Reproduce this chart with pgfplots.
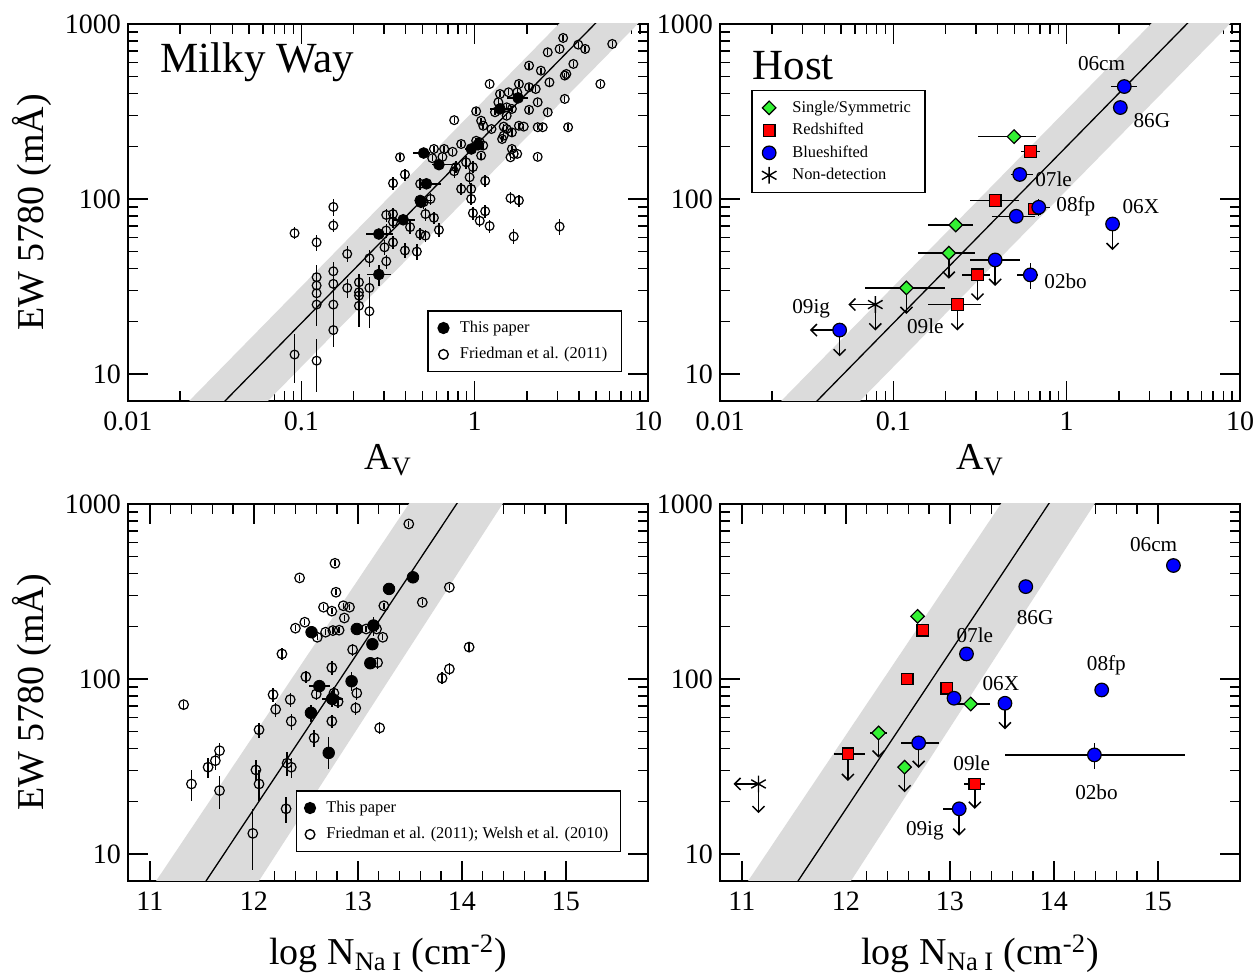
\documentclass[border=0pt]{standalone}
\usepackage{fontspec}
\setmainfont{Liberation Serif}
\usepackage{pgfplots}
\pgfplotsset{compat=1.18}
\usetikzlibrary{arrows.meta}
\definecolor{bandgray}{gray}{0.86}
\definecolor{mgreen}{rgb}{0.2,0.95,0.2}
\definecolor{mred}{rgb}{1,0,0}
\definecolor{mblue}{rgb}{0,0,1}
\newcommand{\tickfont}{\fontsize{14}{15}\selectfont}
\newcommand{\labfont}{\fontsize{19}{21}\selectfont}
\newcommand{\legfont}{\fontsize{8.2}{9.5}\selectfont}
\newcommand{\snfont}{\fontsize{10.6}{12}\selectfont}
\newcommand{\ttlfont}{\fontsize{21.5}{24}\selectfont}
\pgfplotsset{every axis/.append style={
    scale only axis, width=260pt, height=188.5pt,
    axis line style={line width=1pt},
    major tick length=10pt, minor tick length=5pt,
    tick align=inside,
    tick style={black, line width=0.7pt},
    tick label style={font=\tickfont},
    xticklabel style={yshift=-2pt},
    label style={font=\labfont},
    legend cell align=left},
}
\pgfplotsset{
  errb/.style={error bars/x dir=both, error bars/x explicit, error bars/y dir=both, error bars/y explicit,
    error bars/error mark=none, error bars/error bar style={line width=0.75pt, black}},
  errby/.style={error bars/y dir=both, error bars/y explicit,
    error bars/error mark=none, error bars/error bar style={line width=0.7pt, black}},
  uplim/.style={forget plot, black, line width=0.75pt, mark=none, -{Straight Barb[length=3pt,width=6pt]}},
  bandfill/.style={forget plot, fill=bandgray, draw=none},
  fitline/.style={forget plot, black, line width=0.65pt, mark=none},
  gmark/.style={only marks, mark=square*, mark size=2.4pt, mark options={rotate=45, fill=mgreen, draw=black, line width=0.6pt}},
  rmark/.style={only marks, mark=square*, mark size=2.9pt, mark options={fill=mred, draw=black, line width=0.6pt}},
  bmark/.style={only marks, mark=*, mark size=3.4pt, mark options={fill=mblue, draw=black, line width=0.6pt}},
  smark/.style={only marks, mark=asterisk, mark size=4.2pt, mark options={black, line width=0.7pt}},
}
\newcommand{\darr}[3]{\addplot[uplim] coordinates {(#1,#2) (#1,#3)};}
\newcommand{\larr}[3]{\addplot[uplim] coordinates {(#1,#3) (#2,#3)};}
\begin{document}
\begin{tikzpicture}
\useasboundingbox (0,0) rectangle (629pt,487.5pt);
%%%%%%%%%%%%%%%%%%%%%%%%%%%%%%%%% TOP LEFT
\begin{axis}[at={(64pt,287pt)}, anchor=south west,
  xmode=log, ymode=log, xmin=0.01, xmax=10, ymin=7, ymax=1000,
  xtick={0.01,0.1,1,10}, xticklabels={0.01,0.1,1,10},
  ytick={10,100,1000}, yticklabels={10,100,1000},
  xlabel={A\textsubscript{V}}, ylabel={EW 5780 (mÅ)},
  legend style={at={(0.95,0.241)}, anchor=north east, draw=black, line width=0.7pt,
    font=\legfont, inner xsep=5pt, inner ysep=3pt, row sep=2pt, column sep=3.5pt}]
\addlegendimage{only marks, mark=*, mark size=2.7pt, black}
\addlegendentry{This paper}
\addlegendimage{only marks, mark=o, mark size=2.4pt, black}
\addlegendentry{Friedman et al. (2011)}
\addplot[bandfill] coordinates {(0.005,1.53) (20,6668) (20,2312) (0.005,0.532)};
\addplot[fitline] coordinates {(0.005,0.946) (20,4111)};
\addplot[forget plot, only marks, mark=o, mark size=2.2pt, black, mark options={line width=0.6pt}, errby]
  table[y error=ey]{
x y ey
3.24 832 33
3.96 762 30
4.34 720 29
6.22 769 31
3.09 720 29
2.64 689 28
3.71 591 24
2.06 578 23
2.41 541 22
3.38 518 21
3.31 507 20
2.70 464 19
5.31 454 18
1.22 454 18
1.80 454 18
2.06 435 17
2.25 425 17
1.57 407 16
1.76 407 16
1.40 398 16
3.31 373 15
2.31 357 14
1.37 357 14
1.53 334 13
1.64 327 13
2.06 323 13
2.64 313 13
1.02 317 13
1.31 313 13
1.53 299 12
0.762 282 11
1.09 280 11
1.12 262 10
1.25 251 10
1.47 259 10
1.53 251 10
1.80 262 10
1.92 259 10
2.31 257 10
2.47 257 10
3.46 257 10
1.64 240 10
1.47 230 9
1.44 220 9
1.02 215 9
1.07 211 8
1.12 202 8
0.836 206 8
0.582 193 8
0.667 193 8
0.746 186 7
1.64 193 8
1.68 181 7
1.76 181 7
1.61 173 7
2.31 174 7
0.371 173 7
0.569 171 7
0.652 174 7
1.09 177 7
0.893 162 13
0.78 152 12
0.762 144 12
0.977 152 12
0.935 133 11
0.396 138 11
0.338 123 10
0.485 122 10
1.15 127 10
0.836 114 9
0.955 114 9
0.955 100 8
0.556 100 8
0.508 96 8
1.61 101 8
1.80 98 8
0.153 90 10
0.309 81 7
0.338 82 7
0.52 82 7
0.977 83 7
1.15 85 7
0.582 78 6
0.338 74 6
0.424 69 6
0.622 66.5 6
1.07 75 6
1.22 70 6
1.68 61 6
3.09 69.5 7
0.153 70.5 6
0.0914 63.7 5
0.1225 56.5 6
0.309 66 6
0.485 63 5
0.52 61.7 5
0.338 56.5 5
0.302 52.9 5
0.396 50.7 5
0.464 50 5
0.184 48.5 5
0.247 45.8 5
0.309 44 4
0.1225 35.7 6
0.153 38.6 5
0.153 32.7 5
0.1225 32 6
0.1225 28.9 6
0.1225 24.9 6
0.184 31 4
0.215 33.4 4
0.215 29.3 5
0.215 28 5
0.247 31 5
0.215 24.5 6
0.247 22.8 4.5
0.153 24.9 5
0.153 17.8 3.5
0.0914 12.9 4
0.1225 11.9 4
};
\addplot[forget plot, only marks, mark=*, mark size=2.7pt, black, errb]
  table[x error minus=xm, x error plus=xp, y error minus=ym, y error plus=yp]{
x y xm xp ym yp
0.508 183 0.065 0.048 0 0
0.622 157 0.053 0.176 0 0
0.956 193 0.08 0.08 0 0
1.046 204 0.05 0.05 0 0
1.40 327 0.18 0.21 0 0
1.78 378 0.25 0.26 0 0
0.527 122 0.042 0.11 0 0
0.485 98 0.03 0.084 0 0
0.49 95.7 0.03 0.05 0 0
0.387 76 0.049 0.067 0 0
0.28 63 0.045 0.058 0 0
0.28 37 0.04 0.05 5 5
};
\node[anchor=west, inner sep=0pt, font=\ttlfont] at (rel axis cs:0.0615,0.899) {Milky Way};
\end{axis}
%%%%%%%%%%%%%%%%%%%%%%%%%%%%%%%%% TOP RIGHT
\begin{axis}[at={(360pt,287pt)}, anchor=south west,
  xmode=log, ymode=log, xmin=0.01, xmax=10, ymin=7, ymax=1000,
  xtick={0.01,0.1,1,10}, xticklabels={0.01,0.1,1,10},
  ytick={10,100,1000}, yticklabels={10,100,1000},
  xlabel={A\textsubscript{V}},
  legend style={at={(0.06,0.825)}, anchor=north west, draw=black, line width=0.7pt,
    font=\legfont, inner xsep=5pt, inner ysep=3pt, row sep=0pt, column sep=6pt}]
\addlegendimage{gmark}
\addlegendentry{Single/Symmetric}
\addlegendimage{rmark}
\addlegendentry{Redshifted}
\addlegendimage{bmark}
\addlegendentry{Blueshifted}
\addlegendimage{smark}
\addlegendentry{Non-detection}
\addplot[bandfill] coordinates {(0.005,1.53) (20,6668) (20,2312) (0.005,0.532)};
\addplot[fitline] coordinates {(0.005,0.946) (20,4111)};
\darr{0.209}{49}{35}
\darr{0.119}{31}{22}
\darr{0.306}{36.8}{26.2}
\darr{0.234}{24.9}{17.7}
\darr{1.84}{71.9}{51}
\darr{0.387}{44.8}{31.8}
\darr{0.049}{17.8}{12.6}
\larr{0.049}{0.033}{17.8}
\darr{0.0787}{24.9}{17.7}
\larr{0.0787}{0.055}{24.9}
\addplot[forget plot, gmark, black, errb]
  table[x error minus=xm, x error plus=xp, y error minus=ym, y error plus=yp]{
x y xm xp ym yp
0.497 227 0.188 0.17 0 0
0.229 71 0.07 0.059 0 0
0.209 49 0.071 0.087 0 0
0.119 31 0.05 0.08 0 0
};
\addplot[forget plot, rmark, black, errb]
  table[x error minus=xm, x error plus=xp, y error minus=ym, y error plus=yp]{
x y xm xp ym yp
0.617 187 0.072 0.086 0 0
0.387 98 0.109 0.143 5 5
0.652 87.7 0.05 0.07 0 0
0.306 36.8 0.058 0.054 0 0
0.234 24.9 0.076 0.088 0 0
};
\addplot[forget plot, bmark, black, errb]
  table[x error minus=xm, x error plus=xp, y error minus=ym, y error plus=yp]{
x y xm xp ym yp
2.15 439 0.34 0.40 0 0
2.04 333 0 0 0 0
0.536 138 0.058 0.107 0 0
0.69 89.6 0.04 0.11 10 10
0.512 79.6 0.142 0.148 0 0
1.84 71.9 0 0 0 0
0.387 44.8 0.109 0.153 0 0
0.617 36.8 0.097 0.063 6.3 6.5
0.049 17.8 0 0 0 0
};
\addplot[forget plot, smark] coordinates {(0.0787,24.9)};
\node[anchor=west, inner sep=0pt, font=\ttlfont] at (rel axis cs:0.0617,0.889) {Host};
\node[font=\snfont] at (axis cs:1.59,591) {06cm};
\node[font=\snfont] at (axis cs:3.10,279) {86G};
\node[font=\snfont] at (axis cs:0.841,130) {07le};
\node[font=\snfont] at (axis cs:1.13,91) {08fp};
\node[font=\snfont] at (axis cs:2.68,91) {06X};
\node[font=\snfont] at (axis cs:0.986,34) {02bo};
\node[font=\snfont] at (axis cs:0.153,18.8) {09le};
\node[font=\snfont] at (axis cs:0.0336,23.5) {09ig};
\end{axis}
%%%%%%%%%%%%%%%%%%%%%%%%%%%%%%%%% BOTTOM LEFT
\begin{axis}[at={(64pt,47pt)}, anchor=south west,
  ymode=log, xmin=10.79, xmax=15.79, ymin=7, ymax=1000,
  xtick={11,12,13,14,15}, minor x tick num=4,
  ytick={10,100,1000}, yticklabels={10,100,1000},
  /pgf/number format/assume math mode=true,
  xlabel={log N\textsubscript{Na I} (cm\textsuperscript{-2})}, ylabel={EW 5780 (mÅ)},
  xlabel style={yshift=-5pt},
  legend style={at={(0.948,0.241)}, anchor=north east, draw=black, line width=0.7pt,
    font=\legfont, inner xsep=4pt, inner ysep=3pt, row sep=2pt, column sep=3.5pt}]
\addlegendimage{only marks, mark=*, mark size=2.7pt, black}
\addlegendentry{This paper}
\addlegendimage{only marks, mark=o, mark size=2.4pt, black}
\addlegendentry{Friedman et al. (2011); Welsh et al. (2010)}
\addplot[bandfill] coordinates {(10.895,5) (13.655,1400) (14.55,1400) (11.89,5)};
\addplot[fitline] coordinates {(11.377,5) (14.113,1400)};
\addplot[forget plot, only marks, mark=o, mark size=2.4pt, black, mark options={line width=0.6pt}, errby]
  table[y error=ey]{
x y ey
13.49 769 31
12.78 458 18
12.44 378 15
13.88 334 13
12.79 313 13
13.62 274 11
13.25 262 10
12.86 262 10
12.92 257 10
12.67 257 10
12.75 244 10
12.87 223 9
12.49 211 8
12.40 195 8
12.69 185 7
12.76 189 8
12.82 190 8
12.61 173 7
13.08 193 8
13.18 193 8
13.24 173 7
12.95 147 12
12.27 139 11
14.07 152 8
13.19 124 10
12.75 116 10
12.50 103 8
13.88 114 9
13.81 101 8
12.185 81.3 7
12.35 76.2 7
12.21 67 6
12.60 82 6
12.77 83 7
12.81 74.1 6
12.99 83 7
12.98 68.2 6
12.36 57.3 6
12.75 57.3 5
11.325 71.3 4
12.05 51.2 5
12.58 46 5
13.21 52.5 4
11.67 38.9 4
11.63 34.1 4
11.56 31.3 4
11.40 25.1 5
11.67 23 5
12.02 30.2 4
12.05 25.1 5
12.32 33 5
12.36 31.3 4
12.31 18.1 3
11.99 13.1 5
};
\addplot[forget plot, only marks, mark=*, mark size=2.9pt, black, errb]
  table[x error minus=xm, x error plus=xp, y error minus=ym, y error plus=yp]{
x y xm xp ym yp
13.53 381 0 0 0 0
13.30 327 0 0 0 0
12.99 193 0 0 0 0
13.15 202 0 0 25 25
12.555 185 0.05 0.05 0 0
13.14 158 0 0 10 10
13.12 123 0.03 0.03 8 8
12.94 97 0 0 12 12
12.63 91 0.1 0.1 0 0
12.753 76.9 0.1 0.1 8 8
12.549 64 0 0 7 7
12.72 37.8 0 0 7.4 8.6
};
\end{axis}
%%%%%%%%%%%%%%%%%%%%%%%%%%%%%%%%% BOTTOM RIGHT
\begin{axis}[at={(360pt,47pt)}, anchor=south west,
  ymode=log, xmin=10.79, xmax=15.79, ymin=7, ymax=1000,
  xtick={11,12,13,14,15}, minor x tick num=4,
  ytick={10,100,1000}, yticklabels={10,100,1000},
  /pgf/number format/assume math mode=true,
  xlabel={log N\textsubscript{Na I} (cm\textsuperscript{-2})},
  xlabel style={yshift=-5pt}]
\addplot[bandfill] coordinates {(10.895,5) (13.655,1400) (14.55,1400) (11.89,5)};
\addplot[fitline] coordinates {(11.377,5) (14.113,1400)};
\darr{12.315}{49.1}{35.5}
\darr{12.565}{31.3}{22.5}
\darr{12.02}{37.3}{26.1}
\darr{13.24}{25.1}{18.1}
\darr{13.53}{72.6}{51.5}
\darr{12.70}{43.1}{31}
\darr{13.09}{18.1}{12.7}
\darr{11.16}{25.1}{17.1}
\larr{11.16}{10.92}{25.1}
\addplot[forget plot, gmark, black, errb]
  table[x error minus=xm, x error plus=xp, y error minus=ym, y error plus=yp]{
x y xm xp ym yp
12.69 228 0 0 0 0
13.20 71.9 0.17 0.19 0 0
12.315 49.1 0.08 0.08 0 0
12.565 31.3 0 0 0 0
};
\addplot[forget plot, rmark, black, errb]
  table[x error minus=xm, x error plus=xp, y error minus=ym, y error plus=yp]{
x y xm xp ym yp
12.74 190 0 0 0 0
12.59 100 0 0 5 5
12.97 88.5 0 0 0 0
12.02 37.3 0.13 0.16 0 0
13.24 25.1 0.1 0.1 0 0
};
\addplot[forget plot, bmark, black, errb]
  table[x error minus=xm, x error plus=xp, y error minus=ym, y error plus=yp]{
x y xm xp ym yp
15.15 445 0 0 0 0
13.73 337 0 0 0 0
13.16 139 0 0 0 0
14.46 86.5 0 0 0 0
13.04 77.6 0 0 0 0
13.53 72.6 0 0 0 0
12.70 43.1 0.17 0.2 0 0
14.39 36.8 0.86 0.87 6.3 6.5
13.09 18.1 0.16 0.07 0 0
};
\addplot[forget plot, smark] coordinates {(11.16,25.1)};
\node[font=\snfont] at (axis cs:14.96,584) {06cm};
\node[font=\snfont] at (axis cs:13.82,224) {86G};
\node[font=\snfont] at (axis cs:13.24,177) {07le};
\node[font=\snfont] at (axis cs:14.505,119) {08fp};
\node[font=\snfont] at (axis cs:13.49,94.6) {06X};
\node[font=\snfont] at (axis cs:13.21,33) {09le};
\node[font=\snfont] at (axis cs:14.41,22.4) {02bo};
\node[font=\snfont] at (axis cs:12.76,13.6) {09ig};
\end{axis}
\end{tikzpicture}
\end{document}
